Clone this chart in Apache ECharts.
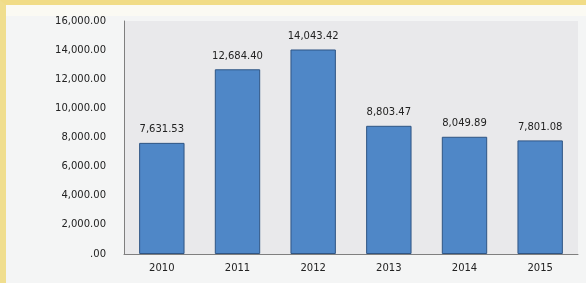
<!DOCTYPE html>
<html>
<head>
<meta charset="utf-8">
<script src="https://cdn.jsdelivr.net/npm/echarts@6/dist/echarts.min.js"></script>
<style>
html, body { margin: 0; padding: 0; background: #f5f5f4; }
#frame { position: absolute; left: 0; top: 0; width: 580px; height: 278px;
  border-top: 5px solid #f1dc86; border-left: 6px solid #f0de8e; background: #f4f5f5; }
#band { position: absolute; left: 6px; top: 5px; width: 580px; height: 11px; background: #fbfaf3; }
#main { position: absolute; left: 0; top: 0; width: 586px; height: 283px; }
</style>
</head>
<body>
<div id="frame"></div>
<div id="band"></div>
<div id="main"></div>
<script>
// 年份与数值
var years = ['2010', '2011', '2012', '2013', '2014', '2015'];
var values = [7631.53, 12684.40, 14043.42, 8803.47, 8049.89, 7801.08];

function fmt(v) {
    if (v === 0) return '.00';
    var s = v.toFixed(2).split('.');
    return s[0].replace(/\B(?=(\d{3})+(?!\d))/g, ',') + '.' + s[1];
}

var myChart = echarts.init(document.getElementById('main'));
var option = {
    animation: false,
    grid: {
        left: 124, right: 8, top: 21, bottom: 29,
        show: true,
        backgroundColor: '#e9e9eb',
        borderWidth: 0
    },
    xAxis: {
        type: 'category',
        data: years,
        axisLine: { lineStyle: { color: '#7f7f7f', width: 1 } },
        axisTick: { show: false },
        axisLabel: { color: '#222', fontSize: 10, fontFamily: 'DejaVu Sans', margin: 9 }
    },
    yAxis: {
        type: 'value',
        min: 0, max: 16000, interval: 2000,
        axisLine: { show: true, lineStyle: { color: '#7f7f7f', width: 1 } },
        axisTick: { show: false },
        splitLine: { show: false },
        axisLabel: {
            color: '#222', fontSize: 10, fontFamily: 'DejaVu Sans', margin: 18,
            formatter: fmt
        }
    },
    series: [{
        type: 'bar',
        data: values,
        barWidth: '60%',
        itemStyle: { color: '#4f87c7', borderColor: '#2f5584', borderWidth: 1 },
        label: {
            show: true, position: 'top', distance: 8,
            color: '#222', fontSize: 10, fontFamily: 'DejaVu Sans',
            formatter: function (p) { return fmt(p.value); }
        }
    }]
};
myChart.setOption(option);
</script>
</body>
</html>
